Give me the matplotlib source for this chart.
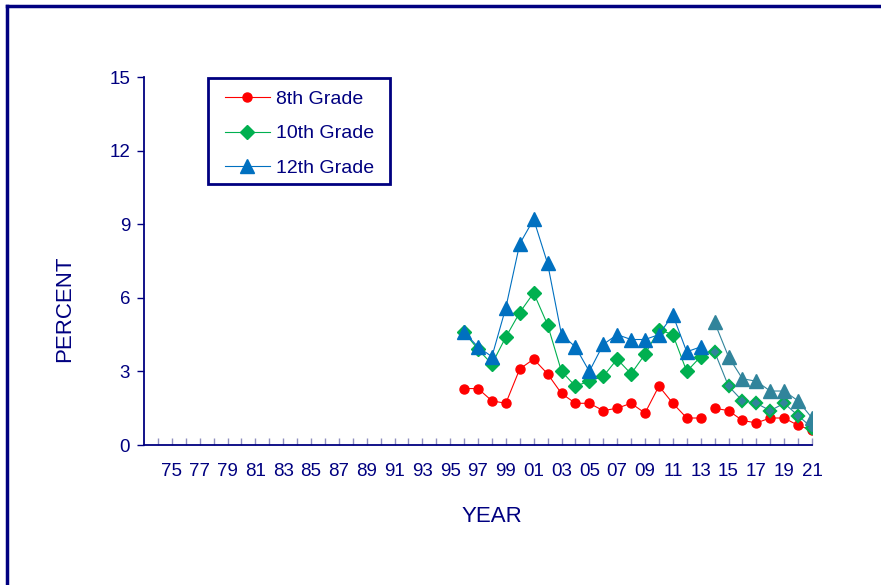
import matplotlib.pyplot as plt
from matplotlib.lines import Line2D
from matplotlib.patches import Rectangle
import numpy as np

plt.rcParams['font.family'] = ['Liberation Sans', 'DejaVu Sans']

navy = '#000080'
red = '#FF0000'
green = '#00B050'
blue = '#0070C0'
teal = '#31849B'

years = list(range(1996, 2022))
grade8 = [2.3, 2.3, 1.8, 1.7, 3.1, 3.5, 2.9, 2.1, 1.7, 1.7, 1.4, 1.5, 1.7,
          1.3, 2.4, 1.7, 1.1, 1.1, 1.5, 1.4, 1.0, 0.9, 1.1, 1.1, 0.8, 0.6]
grade10 = [4.6, 3.9, 3.3, 4.4, 5.4, 6.2, 4.9, 3.0, 2.4, 2.6, 2.8, 3.5, 2.9,
           3.7, 4.7, 4.5, 3.0, 3.6, 3.8, 2.4, 1.8, 1.7, 1.4, 1.7, 1.2, 0.7]
grade12 = [4.6, 4.0, 3.6, 5.6, 8.2, 9.2, 7.4, 4.5, 4.0, 3.0, 4.1, 4.5, 4.3,
           4.3, 4.5, 5.3, 3.8, 4.0, 5.0, 3.6, 2.7, 2.6, 2.2, 2.2, 1.8, 1.1]
break_year = 2014  # question wording changed; series restart here

tick_years = list(range(1974, 2022))
tick_labels = ['%02d' % (y % 100) if y % 2 == 1 else '' for y in tick_years]
y_ticks = [0, 3, 6, 9, 12, 15]

yrs = np.array(years)
old = yrs < break_year
new = ~old

fig = plt.figure(figsize=(8.81, 5.85), dpi=100)
ax = fig.add_axes([144 / 881, 1 - 445 / 585, 668 / 881, 368 / 585])

g8 = np.array(grade8)
g10 = np.array(grade10)
g12 = np.array(grade12)

# 8th grade
ax.plot(yrs[old], g8[old], color=red, lw=0.8, marker='o', ms=6.5, mec=red, mfc=red)
ax.plot(yrs[new], g8[new], color=red, lw=0.8, marker='o', ms=6.5, mec=red, mfc=red)
# 10th grade
ax.plot(yrs[old], g10[old], color=green, lw=0.8, marker='D', ms=7, mec=green, mfc=green)
ax.plot(yrs[new], g10[new], color=teal, lw=0.8, marker='D', ms=6.5, mec=green,
        mfc=teal, mew=1.6)
# 12th grade
ax.plot(yrs[old], g12[old], color=blue, lw=0.8, marker='^', ms=9.5, mec=blue, mfc=blue)
ax.plot(yrs[new], g12[new], color=teal, lw=0.8, marker='^', ms=9.5, mec=teal, mfc=teal)

ax.set_xlim(1973, 2021)
ax.set_ylim(0, 15)
ax.set_xticks(tick_years)
ax.set_xticklabels(tick_labels)
ax.set_yticks(y_ticks)
ax.set_yticklabels([str(v) for v in y_ticks])

for s in ['top', 'right']:
    ax.spines[s].set_visible(False)
for s in ['left', 'bottom']:
    ax.spines[s].set_color(navy)
    ax.spines[s].set_linewidth(1.3)

ax.tick_params(axis='x', direction='in', length=5, width=1, color='#9090C0',
               labelcolor=navy, labelsize=13.5, pad=13)
ax.tick_params(axis='y', direction='out', length=5, width=1, color=navy,
               labelcolor=navy, labelsize=13.5, pad=5)

fig.text(65 / 881, 1 - 309 / 585, 'PERCENT', rotation=90, ha='center', va='center',
         color=navy, fontsize=16)
fig.text(492 / 881, 1 - 516 / 585, 'YEAR', ha='center', va='center',
         color=navy, fontsize=16)

handles = [
    Line2D([], [], color=red, lw=0.8, marker='o', ms=6.5, mec=red, mfc=red),
    Line2D([], [], color=green, lw=0.8, marker='D', ms=7, mec=green, mfc=green),
    Line2D([], [], color=blue, lw=0.8, marker='^', ms=9.5, mec=blue, mfc=blue),
]
leg = fig.legend(handles, ['8th Grade', '10th Grade', '12th Grade'],
                 loc='upper left', bbox_to_anchor=(225 / 881, 1 - 90 / 585),
                 borderaxespad=0, frameon=False, fontsize=14,
                 handlelength=2.3, handletextpad=0.3, labelspacing=0.88,
                 borderpad=0, labelcolor=navy)
fig.add_artist(Rectangle((208 / 881, 1 - 184 / 585), 182 / 881, 106 / 585,
                         transform=fig.transFigure, fill=False,
                         edgecolor=navy, lw=2))

# outer chart border (left and top visible)
fig.add_artist(Line2D([7 / 881, 7 / 881], [0, 1 - 6 / 585], transform=fig.transFigure,
                      color=navy, lw=2.5))
fig.add_artist(Line2D([7 / 881, 1], [1 - 6 / 585, 1 - 6 / 585], transform=fig.transFigure,
                      color=navy, lw=2.5))

fig.savefig('out.png', dpi=100)
